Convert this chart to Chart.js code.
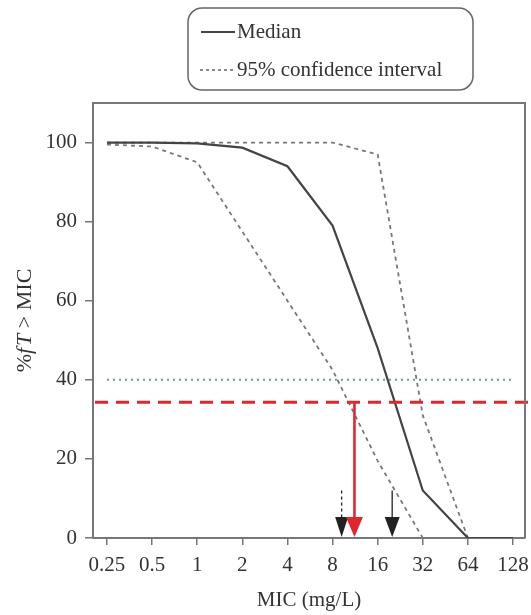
<!DOCTYPE html>
<html>
<head>
<meta charset="utf-8">
<script src="https://cdn.jsdelivr.net/npm/chart.js@4.4.1/dist/chart.umd.min.js"></script>
<style>
  html, body { margin: 0; padding: 0; background: #fff; }
  #wrap { width: 531px; height: 615px; }
</style>
</head>
<body>
<div id="wrap"><canvas id="micChart" width="531" height="615"></canvas></div>
<script>
// MIC values (mg/L) and their tick labels
const micValues = [0.25, 0.5, 1, 2, 4, 8, 16, 32, 64, 128];
const micLabels = ['0.25', '0.5', '1', '2', '4', '8', '16', '32', '64', '128'];
const yTicks = [0, 20, 40, 60, 80, 100];

// %fT > MIC
const median = [100, 100, 99.8, 98.7, 94, 79, 48, 12, 0, 0];
const upperCI = [100, 100, 100, 100, 100, 100, 97, 31, 0, 0];
const lowerCI = [99.5, 99, 95, 77.5, 60, 42.5, 19.5, 0, 0, 0];

// reference levels
const targetPct = 40;
const breakpointPct = 34.3;

// arrows: MIC where they point, value where the shaft starts
const arrowMic = [9.2, 11.2, 20];
const arrowFrom = [12, 34.3, 12];

const serif = "'Liberation Serif', 'DejaVu Serif', serif";

function pairs(ys) {
    return micValues.map((x, i) => ({ x: x, y: ys[i] }));
}

const extras = {
    id: 'extras',
    afterDatasetsDraw(chart) {
        const ctx = chart.ctx;
        const area = chart.chartArea;
        const xs = chart.scales.x;
        const ys = chart.scales.y;

        ctx.save();

        // red dashed breakpoint line across the plot
        const yb = ys.getPixelForValue(breakpointPct);
        ctx.strokeStyle = '#e0262e';
        ctx.lineWidth = 3;
        ctx.setLineDash([13, 8]);
        ctx.beginPath();
        ctx.moveTo(area.left + 2, yb);
        ctx.lineTo(area.right + 6, yb);
        ctx.stroke();

        // arrows down to the x axis
        const arrowStyle = [
            { color: '#222', dash: [3, 3], width: 1.3, head: 13 },
            { color: '#e0262e', dash: [], width: 2.6, head: 17 },
            { color: '#222', dash: [], width: 1.3, head: 15 }
        ];
        arrowMic.forEach((m, i) => {
            const st = arrowStyle[i];
            const x = xs.getPixelForValue(m);
            const y0 = ys.getPixelForValue(arrowFrom[i]);
            const y1 = ys.getPixelForValue(0);
            const hh = 21;
            ctx.strokeStyle = st.color;
            ctx.fillStyle = st.color;
            ctx.lineWidth = st.width;
            ctx.setLineDash(st.dash);
            ctx.beginPath();
            ctx.moveTo(x, y0);
            ctx.lineTo(x, y1 - hh + 2);
            ctx.stroke();
            ctx.setLineDash([]);
            ctx.beginPath();
            ctx.moveTo(x - st.head / 2, y1 - hh);
            ctx.lineTo(x + st.head / 2, y1 - hh);
            ctx.lineTo(x, y1 - 1);
            ctx.closePath();
            ctx.fill();
        });

        // top and right frame
        ctx.setLineDash([]);
        ctx.strokeStyle = '#777';
        ctx.lineWidth = 2;
        ctx.beginPath();
        ctx.moveTo(area.left, area.top);
        ctx.lineTo(area.right, area.top);
        ctx.lineTo(area.right, area.bottom);
        ctx.stroke();

        // legend box
        ctx.lineWidth = 1.5;
        ctx.strokeStyle = '#666';
        ctx.beginPath();
        ctx.roundRect(188, 8, 285, 82, 14);
        ctx.stroke();

        ctx.font = '21px ' + serif;
        ctx.fillStyle = '#333';
        ctx.textBaseline = 'middle';
        ctx.textAlign = 'left';

        ctx.strokeStyle = '#444';
        ctx.lineWidth = 2;
        ctx.beginPath();
        ctx.moveTo(201, 32);
        ctx.lineTo(235, 32);
        ctx.stroke();
        ctx.fillText(chart.data.datasets[0].label, 237, 32);

        ctx.strokeStyle = '#666';
        ctx.lineWidth = 1.5;
        ctx.setLineDash([3, 3]);
        ctx.beginPath();
        ctx.moveTo(200, 70);
        ctx.lineTo(236, 70);
        ctx.stroke();
        ctx.setLineDash([]);
        ctx.fillText(chart.data.datasets[1].label, 237, 70);

        // x axis title
        ctx.textAlign = 'center';
        ctx.font = '21px ' + serif;
        ctx.fillText('MIC (mg/L)', (area.left + area.right) / 2, 600);

        // y axis title with italic f and T
        const parts = [
            ['%', '22px ' + serif],
            ['f', 'italic 22px ' + serif],
            ['T', 'italic 22px ' + serif],
            [' > MIC', '22px ' + serif]
        ];
        let total = 0;
        parts.forEach(p => { ctx.font = p[1]; total += ctx.measureText(p[0]).width + (p[0] === 'f' ? 2 : 0); });
        ctx.translate(25, (area.top + area.bottom) / 2);
        ctx.rotate(-Math.PI / 2);
        ctx.textAlign = 'left';
        let cx = -total / 2;
        parts.forEach(p => {
            ctx.font = p[1];
            ctx.fillText(p[0], cx, 0);
            cx += ctx.measureText(p[0]).width + (p[0] === 'f' ? 2 : 0);
        });

        ctx.restore();
    }
};

const ctx = document.getElementById('micChart').getContext('2d');
new Chart(ctx, {
    type: 'line',
    data: {
        datasets: [{
            label: 'Median',
            data: pairs(median),
            borderColor: '#444',
            borderWidth: 2.2,
            pointRadius: 0,
            tension: 0
        }, {
            label: '95% confidence interval',
            data: pairs(upperCI),
            borderColor: '#777',
            borderWidth: 1.8,
            borderDash: [4, 4],
            pointRadius: 0,
            tension: 0
        }, {
            label: '95% confidence interval (lower)',
            data: pairs(lowerCI),
            borderColor: '#777',
            borderWidth: 1.8,
            borderDash: [4, 4],
            pointRadius: 0,
            tension: 0
        }, {
            label: 'target',
            data: [{ x: micValues[0], y: targetPct }, { x: micValues[micValues.length - 1], y: targetPct }],
            borderColor: '#6f9996',
            borderWidth: 2,
            borderDash: [2, 4],
            pointRadius: 0
        }]
    },
    options: {
        responsive: false,
        animation: false,
        events: [],
        layout: { padding: { top: 103, right: 6, left: 0, bottom: 0 } },
        plugins: {
            legend: { display: false },
            tooltip: { enabled: false }
        },
        scales: {
            x: {
                type: 'logarithmic',
                min: 0.2017,
                max: 153.9,
                afterBuildTicks: s => { s.ticks = micValues.map(v => ({ value: v })); },
                afterFit: s => { s.height = 77; s.paddingLeft = 0; s.paddingRight = 0; },
                ticks: {
                    callback: (v, i) => micLabels[i],
                    font: { family: serif, size: 21 },
                    color: '#333',
                    padding: 8,
                    maxRotation: 0,
                    autoSkip: false
                },
                grid: { drawOnChartArea: false, tickLength: 7, color: '#777', lineWidth: 1.5 },
                border: { color: '#777', width: 2 }
            },
            y: {
                min: 0,
                max: 110,
                afterBuildTicks: s => { s.ticks = yTicks.map(v => ({ value: v })); },
                afterFit: s => { s.width = 93; s.paddingTop = 0; s.paddingBottom = 0; },
                ticks: {
                    font: { family: serif, size: 21 },
                    color: '#333',
                    padding: 8
                },
                grid: { drawOnChartArea: false, tickLength: 8, color: '#777', lineWidth: 1.5 },
                border: { color: '#777', width: 2 }
            }
        }
    },
    plugins: [extras]
});
</script>
</body>
</html>
